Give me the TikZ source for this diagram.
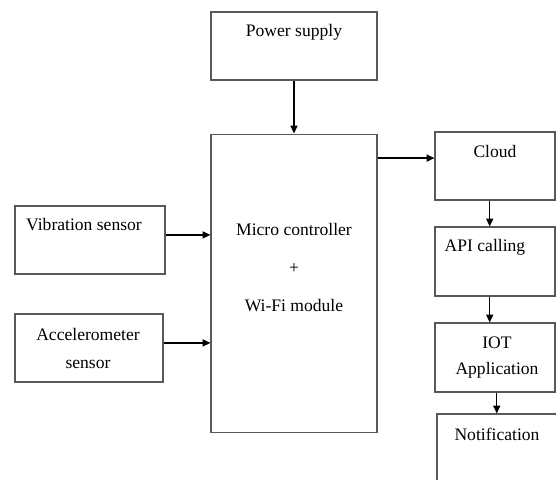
\documentclass[tikz,border=0pt]{standalone}
\usepackage{fontspec}
\setmainfont{Liberation Serif}
\usetikzlibrary{arrows.meta}
\usepackage{xcolor}
\definecolor{edge}{rgb}{0.35,0.35,0.35}

\begin{document}
\begin{tikzpicture}[x=0.02cm, y=-0.02cm,
		b/.style = {rectangle,	draw=edge,	line width=0.6pt,	inner sep=0pt},
		t/.style = {inner sep=0pt,	align=center,	font=\fontsize{10}{12}\selectfont},
		r/.style = {-{Triangle[length=4.5pt, width=4pt]}, line width=0.8pt}
		]
		\useasboundingbox (0,0) rectangle (556,480);
		\clip (0,0) rectangle (556,480);
		
		%Boxes
		\node[b, minimum width=3.32cm, minimum height=1.36cm]	(pow)	at	(294, 46)		{};
		\node[b, minimum width=3.32cm, minimum height=5.98cm]	(mcu)	at	(294, 283.5)	{};
		\node[b, minimum width=3cm, minimum height=1.36cm]		(vib)	at	(90, 240)		{};
		\node[b, minimum width=2.96cm, minimum height=1.36cm]	(acc)	at	(89, 348)		{};
		\node[b, minimum width=2.4cm, minimum height=1.36cm]	(cloud)	at	(495, 166)		{};
		\node[b, minimum width=2.4cm, minimum height=1.38cm]	(api)	at	(495, 261.5)	{};
		\node[b, minimum width=2.4cm, minimum height=1.38cm]	(iot)	at	(495, 357.5)	{};
		\node[b, minimum width=2.8cm, minimum height=1.8cm]		(notif)	at	(507, 459)		{};
		
		%Texts
		\node[t]	(powt)		at	(294, 32)		{Power supply};
		\node[t]	(mcut)		at	(294, 267.5)	{Micro controller\\[9.6pt]+\\[9.6pt]Wi-Fi module};
		\node[t]	(vibt)		at	(84, 225)		{Vibration sensor};
		\node[t]	(acct)		at	(88, 348.5)		{Accelerometer\\[3.4pt]sensor};
		\node[t]	(cloudt)	at	(495, 151)		{Cloud};
		\node[t]	(apit)		at	(485, 247)		{API calling};
		\node[t]	(iott)		at	(497, 357.5)	{IOT\\[2.3pt]Application};
		\node[t]	(notift)	at	(497, 434)		{Notification};
		
		%Ports
		\coordinate	(vibo)		at	([yshift=2.9pt]vib.east);
		\coordinate	(acco)		at	([yshift=2.9pt]acc.east);
		\coordinate	(cloudi)	at	([yshift=4.5pt]cloud.west);
		\coordinate	(cloudo)	at	([xshift=-3pt]cloud.south);
		\coordinate	(apii)		at	([xshift=-3pt]api.north);
		\coordinate	(apio)		at	([xshift=-3pt]api.south);
		\coordinate	(ioti)		at	([xshift=-3pt]iot.north);
		
		%Lines
		\draw[r]	(pow.south)			to	(mcu.north);
		\draw[r]	(vibo)				to	(vibo -| mcu.west);
		\draw[r]	(acco)				to	(acco -| mcu.west);
		\draw[r]	(cloudi -| mcu.east)	to	(cloudi);
		\draw[r]	(cloudo)			to	(apii);
		\draw[r]	(apio)				to	(ioti);
		\draw[r]	([xshift=1pt]iot.south)	to	([xshift=1pt]iot.south |- notif.north);
	\end{tikzpicture}
\end{document}
